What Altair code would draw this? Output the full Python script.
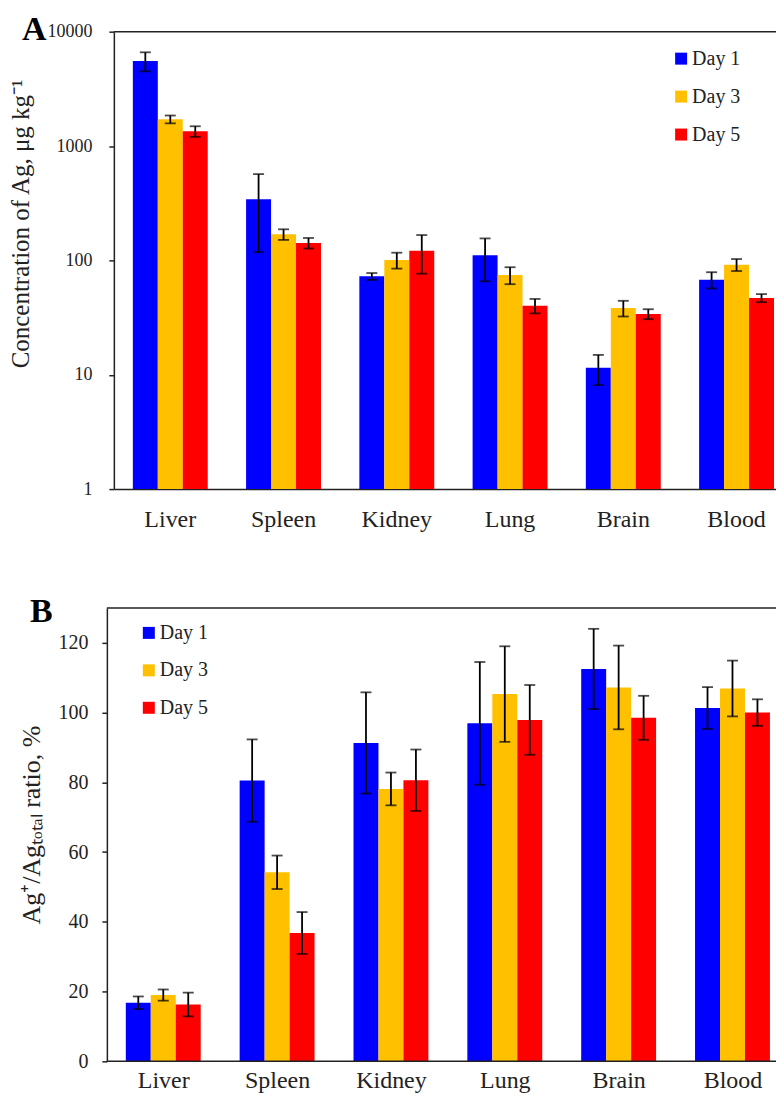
import altair as alt
import pandas as pd

organs = ["Liver", "Spleen", "Kidney", "Lung", "Brain", "Blood"]
days = ["Day 1", "Day 3", "Day 5"]
colors = ["#0000FF", "#FFC000", "#FF0000"]

# Panel A: concentration of Ag (ug/kg), mean and SD
conc_day1 = [5550, 343, 72.5, 110.6, 11.5, 67.8]
conc_day3 = [1714, 169, 100.7, 74.5, 38.3, 91.7]
conc_day5 = [1346, 142, 121.5, 40.2, 34.0, 46.9]
conc_sd1 = [1050, 225, 5.0, 45.0, 3.4, 11.0]
conc_sd3 = [135, 18, 16.0, 12.6, 6.0, 11.0]
conc_sd5 = [143, 15, 45.0, 5.8, 3.4, 3.8]

# Panel B: Ag+/Ag_total ratio (%), mean and SD
ratio_day1 = [16.8, 80.5, 91.3, 96.9, 112.5, 101.3]
ratio_day3 = [19.0, 54.2, 78.1, 105.3, 107.2, 106.9]
ratio_day5 = [16.3, 36.8, 80.6, 97.9, 98.5, 100.0]
ratio_sd1 = [1.8, 11.8, 14.5, 17.6, 11.5, 6.0]
ratio_sd3 = [1.6, 4.8, 4.7, 13.7, 12.0, 8.0]
ratio_sd5 = [3.4, 6.0, 8.8, 10.0, 6.3, 3.8]

conc_ticks = [1, 10, 100, 1000, 10000]
ratio_ticks = [0, 20, 40, 60, 80, 100, 120]


def build(means, sds):
    rows = []
    for d, m, s in zip(days, means, sds):
        for o, mv, sv in zip(organs, m, s):
            rows.append({"organ": o, "day": d, "value": mv, "lo": mv - sv, "hi": mv + sv})
    return pd.DataFrame(rows)


dfA = build([conc_day1, conc_day3, conc_day5], [conc_sd1, conc_sd3, conc_sd5])
dfB = build([ratio_day1, ratio_day3, ratio_day5], [ratio_sd1, ratio_sd3, ratio_sd5])

FONT = "Liberation Serif"
W = 669
HA = 458
HB = 454
INK = "#222222"


def panel(df, letter, lx, ly, yscale, yaxis, xscale, xaxis, legend, H, frame_left, bottom_rule):
    x = alt.X("organ:N", sort=organs, scale=xscale, axis=xaxis)
    xo = alt.XOffset("day:N", sort=days, scale=alt.Scale(paddingInner=0, paddingOuter=0))
    base = alt.Chart(df)
    bars = base.mark_bar().encode(
        x=x, xOffset=xo,
        y=alt.Y("value:Q", scale=yscale, axis=yaxis, stack=None),
        color=alt.Color("day:N", sort=days,
                        scale=alt.Scale(domain=days, range=colors),
                        legend=legend),
    )
    err = base.mark_rule(color="black", strokeWidth=1.8).encode(
        x=x, xOffset=xo, y="lo:Q", y2="hi:Q")
    cap_hi = base.mark_tick(color="black", size=11, thickness=1.8).encode(
        x=x, xOffset=xo, y="hi:Q")
    cap_lo = base.mark_tick(color="black", size=11, thickness=1.8).encode(
        x=x, xOffset=xo, y="lo:Q")
    one = alt.Chart(pd.DataFrame({"t": [letter]}))
    top = one.mark_rule(color=INK, strokeWidth=1.5).encode(
        x=alt.value(frame_left), x2=alt.value(W), y=alt.value(0))
    label = one.mark_text(
        font=FONT, fontSize=34, fontWeight="bold", align="left",
        baseline="alphabetic", color="black"
    ).encode(x=alt.value(lx), y=alt.value(ly), text="t:N")
    layers = [bars, err, cap_hi, cap_lo, top]
    if bottom_rule:
        bot = one.mark_rule(color=INK, strokeWidth=1.5).encode(
            x=alt.value(frame_left), x2=alt.value(W), y=alt.value(H))
        layers.append(bot)
    layers.append(label)
    return alt.layer(*layers).properties(width=W, height=H)


legA = alt.Legend(orient="none", legendX=558, legendY=17, title=None,
                  symbolType="square", symbolSize=144, symbolStrokeWidth=0,
                  labelFont=FONT, labelFontSize=20, labelColor=INK,
                  rowPadding=18, labelOffset=1, padding=0)
legB = alt.Legend(orient="none", legendX=25, legendY=15, title=None,
                  symbolType="square", symbolSize=144, symbolStrokeWidth=0,
                  labelFont=FONT, labelFontSize=20, labelColor=INK,
                  rowPadding=17.5, labelOffset=1, padding=0)

chartA = panel(
    dfA, "A", -92, 8.5,
    alt.Scale(type="log", domain=[1, 10000]),
    alt.Axis(values=conc_ticks, format="d", title="Concentration of Ag, μg kg⁻¹",
             titleX=-85, titleY=192, titleAngle=270, titleAlign="center",
             titleBaseline="alphabetic", titleFontSize=25,
             labelFontSize=18, labelPadding=17, tickSize=5, grid=False),
    alt.Scale(paddingInner=0.3386, paddingOuter=0.119, align=0.704),
    alt.Axis(title=None, labelAngle=0, ticks=False, labelPadding=18, labelFontSize=24),
    legA, HA, 0, False,
)

chartB = panel(
    dfB, "B", -84, 14,
    alt.Scale(domain=[0, 130]),
    alt.Axis(values=ratio_ticks, title="Ag⁺/Agₜₒₜₐₗ ratio, %", offset=7,
             titleX=-67, titleY=217, titleAngle=270, titleAlign="center",
             titleBaseline="alphabetic", titleFontSize=26,
             labelFontSize=20, labelPadding=14, tickSize=5, grid=False),
    alt.Scale(paddingInner=0.333, paddingOuter=0.1009, align=0.52),
    alt.Axis(title=None, labelAngle=0, ticks=False, labelPadding=7, labelFontSize=24, domain=False),
    legB, HB, -7, True,
)

chart = alt.vconcat(chartA, chartB, spacing=64).resolve_scale(
    x="independent", y="independent", color="independent"
).resolve_legend(color="independent").configure_view(stroke=None).configure_axis(
    labelFont=FONT, titleFont=FONT, labelColor=INK, titleColor=INK,
    domainColor=INK, domainWidth=1.5, tickColor=INK, tickWidth=1.5,
    titleFontWeight="normal",
).properties(padding={"left": 1, "top": 4, "right": -7, "bottom": 0})

chart.save("out.html", embed_options={"renderer": "svg", "actions": False})
